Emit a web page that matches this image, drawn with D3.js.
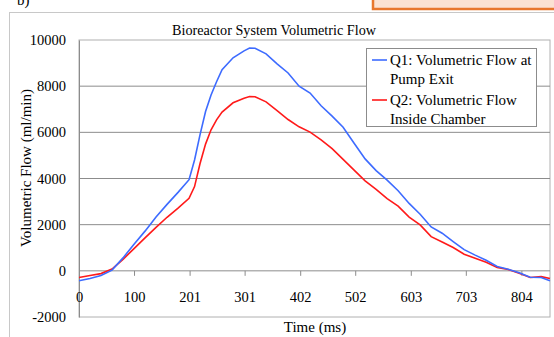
<!DOCTYPE html>
<html>
<head>
<meta charset="utf-8">
<title>Bioreactor System Volumetric Flow</title>
<style>
  body { margin: 0; background: #fff; }
  svg { display: block; }
  svg text { font-family: "Liberation Serif", "Times New Roman", serif; fill: #000; }
</style>
</head>
<body>
<svg width="554" height="337"></svg>
<script src="https://d3js.org/d3.v7.min.js"></script>
<script>

// time in ms
var times = [0, 20, 40, 60, 80, 100, 120, 140, 160, 180, 200, 210, 220, 230, 240, 250, 260, 280, 300, 310, 320, 340, 360, 380, 400,
             420, 440, 460, 480, 500, 520, 540, 560, 580, 600, 620, 640, 660, 680, 700, 720, 740, 760, 780, 800, 820, 840, 856];

// Q1: flow at pump exit (ml/min)
var q1 = [-430, -330, -200, 30, 560, 1150, 1720, 2330, 2880, 3400, 3950, 4800, 5900, 6900, 7620, 8190, 8710, 9230, 9530, 9650, 9640, 9400, 8970, 8570, 8000,
          7700, 7150, 6700, 6220, 5530, 4850, 4340, 3930, 3470, 2920, 2450, 1900, 1630, 1270, 920, 680, 460, 190, 70, -80, -280, -290, -430];

// Q2: flow inside chamber (ml/min)
var q2 = [-290, -200, -120, 80, 500, 960, 1430, 1880, 2320, 2720, 3140, 3650, 4650, 5490, 6110, 6540, 6880, 7280, 7480, 7555, 7540, 7320, 6940, 6555, 6240,
          6010, 5670, 5290, 4830, 4360, 3900, 3530, 3130, 2800, 2330, 1990, 1480, 1250, 1010, 720, 540, 370, 150, 60, -100, -290, -250, -330];

var xTicks = [0, 100, 201, 301, 402, 502, 603, 703, 804];
var yTicks = [-2000, 0, 2000, 4000, 6000, 8000, 10000];

var svg = d3.select("svg");

var plot = {left: 79, right: 550, top: 40, bottom: 317};

var x = d3.scaleLinear()
    .domain([0, 856])
    .range([plot.left, plot.right]);

var y = d3.scaleLinear()
    .domain([-2000, 10000])
    .range([plot.bottom, plot.top]);

// top-left caption fragment and orange box cut at page edge
svg.append("text")
    .attr("x", 17)
    .attr("y", 5)
    .attr("font-size", 15)
    .text("b)");

svg.append("rect")
    .attr("x", 373)
    .attr("y", -6)
    .attr("width", 190)
    .attr("height", 15)
    .attr("fill", "#fbe2d3")
    .attr("stroke", "#e8772e")
    .attr("stroke-width", 2.5);

// outer chart frame
svg.append("rect")
    .attr("x", 9.5)
    .attr("y", 12.5)
    .attr("width", 570)
    .attr("height", 400)
    .attr("fill", "none")
    .attr("stroke", "#c8c8c8");

// plot area
svg.append("rect")
    .attr("x", plot.left)
    .attr("y", plot.top)
    .attr("width", plot.right - plot.left)
    .attr("height", plot.bottom - plot.top)
    .attr("fill", "none")
    .attr("stroke", "#b0b0b0");

// gridlines
svg.append("g")
  .selectAll("line")
  .data(yTicks.filter(function(d) { return d > -2000 && d < 10000; }))
  .enter().append("line")
    .attr("x1", plot.left)
    .attr("x2", plot.right)
    .attr("y1", function(d) { return y(d); })
    .attr("y2", function(d) { return y(d); })
    .attr("stroke", "#8c8c8c")
    .attr("stroke-width", 1);

// y axis
var yAxis = svg.append("g")
    .attr("transform", "translate(" + plot.left + ",0)")
    .call(d3.axisLeft(y).tickValues(yTicks).tickSize(0).tickPadding(13)
        .tickFormat(function(d) { return String(d); }));
yAxis.select(".domain").attr("stroke", "#8c8c8c");
yAxis.selectAll("text")
    .style("font-size", "14.5px");

// x axis along zero
var xAxis = svg.append("g")
    .attr("transform", "translate(0," + y(0) + ")")
    .call(d3.axisBottom(x).tickValues(xTicks).tickSize(5).tickPadding(16)
        .tickFormat(function(d) { return d; }));
xAxis.select(".domain").remove();
xAxis.selectAll(".tick line").attr("stroke", "#8c8c8c");
xAxis.selectAll("text")
    .style("font-size", "14.5px");

// series lines
var line = d3.line()
    .x(function(d) { return x(d[0]); })
    .y(function(d) { return y(d[1]); });

svg.append("path")
    .datum(d3.zip(times, q2))
    .attr("fill", "none")
    .attr("stroke", "#ff1a1a")
    .attr("stroke-width", 1.6)
    .attr("d", line);

svg.append("path")
    .datum(d3.zip(times, q1))
    .attr("fill", "none")
    .attr("stroke", "#3d6bff")
    .attr("stroke-width", 1.6)
    .attr("d", line);

// title
svg.append("text")
    .attr("x", 274)
    .attr("y", 35)
    .attr("text-anchor", "middle")
    .attr("font-size", 14.2)
    .text("Bioreactor System Volumetric Flow");

// axis titles
svg.append("text")
    .attr("transform", "translate(31,168) rotate(-90)")
    .attr("text-anchor", "middle")
    .attr("font-size", 15)
    .text("Volumetric Flow (ml/min)");

svg.append("text")
    .attr("x", 315)
    .attr("y", 332)
    .attr("text-anchor", "middle")
    .attr("font-size", 15)
    .text("Time (ms)");

// legend
var legend = svg.append("g");
legend.append("rect")
    .attr("x", 366.5)
    .attr("y", 48.5)
    .attr("width", 170)
    .attr("height", 78)
    .attr("fill", "#fff")
    .attr("stroke", "#8c8c8c");

var legendItems = [
  {color: "#3d6bff", lines: ["Q1: Volumetric Flow at", "Pump Exit"], y: 60},
  {color: "#ff1a1a", lines: ["Q2: Volumetric Flow", "Inside Chamber"], y: 100}
];

legendItems.forEach(function(item) {
  legend.append("line")
      .attr("x1", 372)
      .attr("x2", 387)
      .attr("y1", item.y)
      .attr("y2", item.y)
      .attr("stroke", item.color)
      .attr("stroke-width", 1.6);
  item.lines.forEach(function(t, i) {
    legend.append("text")
        .attr("x", 390)
        .attr("y", item.y + 5 + i * 18.5)
        .attr("font-size", 15)
        .text(t);
  });
});

</script>
</body>
</html>
